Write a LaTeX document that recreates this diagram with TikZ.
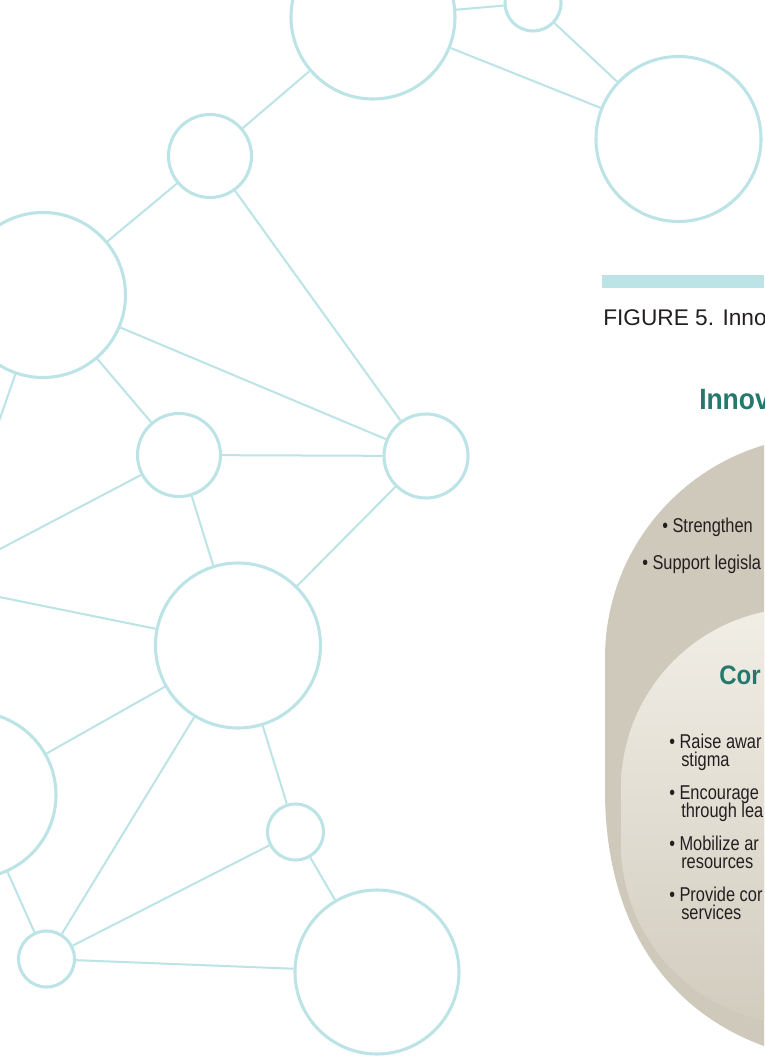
\documentclass[tikz,border=0pt]{standalone}
\usepackage{fontspec}
\setmainfont{Liberation Sans}
\newfontfamily\condfont[FakeStretch=0.82]{Liberation Sans}
\newfontfamily\headfont[FakeStretch=0.9]{Liberation Sans Bold}
\definecolor{netcol}{RGB}{188,227,230}
\definecolor{beigecol}{RGB}{206,201,187}
\definecolor{innerlight}{RGB}{241,238,230}
\definecolor{innermid}{RGB}{229,225,214}
\definecolor{innerdark}{RGB}{209,204,190}
\definecolor{tealhead}{RGB}{36,120,110}
\definecolor{inkcol}{RGB}{35,31,32}
\begin{document}
\begin{tikzpicture}[x=0.75pt,y=-0.75pt,
  hub/.style={circle,draw=netcol,line width=2.3pt,minimum size=#1*1.5pt,inner sep=0pt},
  link/.style={draw=netcol,line width=1.5pt},
  txt/.style={anchor=base west,inner sep=0pt,text=inkcol},
  bul/.style={txt,font=\condfont\fontsize{15pt}{13.5pt}\selectfont},
  head/.style={anchor=base west,inner sep=0pt,text=tealhead}]
\useasboundingbox (0,0) rectangle (764,1056);
\clip (0,0) rectangle (764,1056);
\fill[white] (0,0) rectangle (764,1056);

% outer beige shape
\fill[beigecol] (1000,436) -- (827,436)
  .. controls (704.5,436) and (605,535.5) .. (605,658)
  -- (605,790)
  .. controls (605,962) and (708,1065) .. (880,1065)
  -- (1000,1065) -- cycle;
% inner shaded shape
\shade[top color=innerlight, middle color=innermid, bottom color=innerdark]
  (1000,608) -- (801,608)
  .. controls (701.6,608) and (621,688.6) .. (621,788)
  -- (621,844)
  .. controls (621,943.4) and (701.6,1024) .. (801,1024)
  -- (1000,1024) -- cycle;

% bar and caption
\fill[netcol] (602,275) rectangle (764,288);
\node[txt,font=\fontsize{17pt}{20pt}\selectfont] (cap) at (603,325.5) {FIGURE 5. Inno};

% headings
\node[head,font=\headfont\fontsize{22pt}{26pt}\selectfont] (t1) at (699,409) {Innov};
\node[head,font=\headfont\fontsize{20pt}{24pt}\selectfont] (t2) at (719,684) {Cor};

% outer bullets
\node[bul] (s1) at (662,532) {• Strengthen};
\node[bul] (s2) at (642,569) {• Support legisla};

% inner bullets
\node[bul] (c1) at (669,748) {• Raise awar};
\node[bul] (c1b) at (681,766) {stigma};
\node[bul] (c2) at (669,799) {• Encourage};
\node[bul] (c2b) at (681,817) {through lea};
\node[bul] (c3) at (669,850) {• Mobilize ar};
\node[bul] (c3b) at (681,868) {resources};
\node[bul] (c4) at (669,901) {• Provide cor};
\node[bul] (c4b) at (681,919) {services};

% network
\node[hub=82]   (A) at (373,17) {};
\node[hub=28]   (B) at (533,3) {};
\node[hub=82.5] (C) at (678.5,139) {};
\node[hub=41.5] (D) at (210,156) {};
\node[hub=82.5] (E) at (43,295) {};
\node[hub=41.5] (F) at (179,455) {};
\node[hub=42]   (G) at (426,456) {};
\node[hub=82.5] (H) at (238,645.5) {};
\node[hub=83]   (I) at (-27,795) {};
\node[hub=28]   (J) at (295.5,832) {};
\node[hub=28]   (K) at (46.5,959) {};
\node[hub=82]   (L) at (377,972) {};
\coordinate (o1) at (-18,470);
\coordinate (o2) at (-40,570);
\coordinate (o3) at (-40,589);

\draw[link] (A) -- (B);
\draw[link] (B) -- (C);
\draw[link] (A) -- (C);
\draw[link] (A) -- (D);
\draw[link] (D) -- (E);
\draw[link] (D) -- (G);
\draw[link] (E) -- (F);
\draw[link] (E) -- (G);
\draw[link] (E) -- (o1);
\draw[link] (F) -- (G);
\draw[link] (F) -- (o2);
\draw[link] (F) -- (H);
\draw[link] (G) -- (H);
\draw[link] (H) -- (o3);
\draw[link] (H) -- (I);
\draw[link] (H) -- (K);
\draw[link] (H) -- (J);
\draw[link] (J) -- (K);
\draw[link] (J) -- (L);
\draw[link] (K) -- (L);
\draw[link] (I) -- (K);
\end{tikzpicture}
\end{document}
